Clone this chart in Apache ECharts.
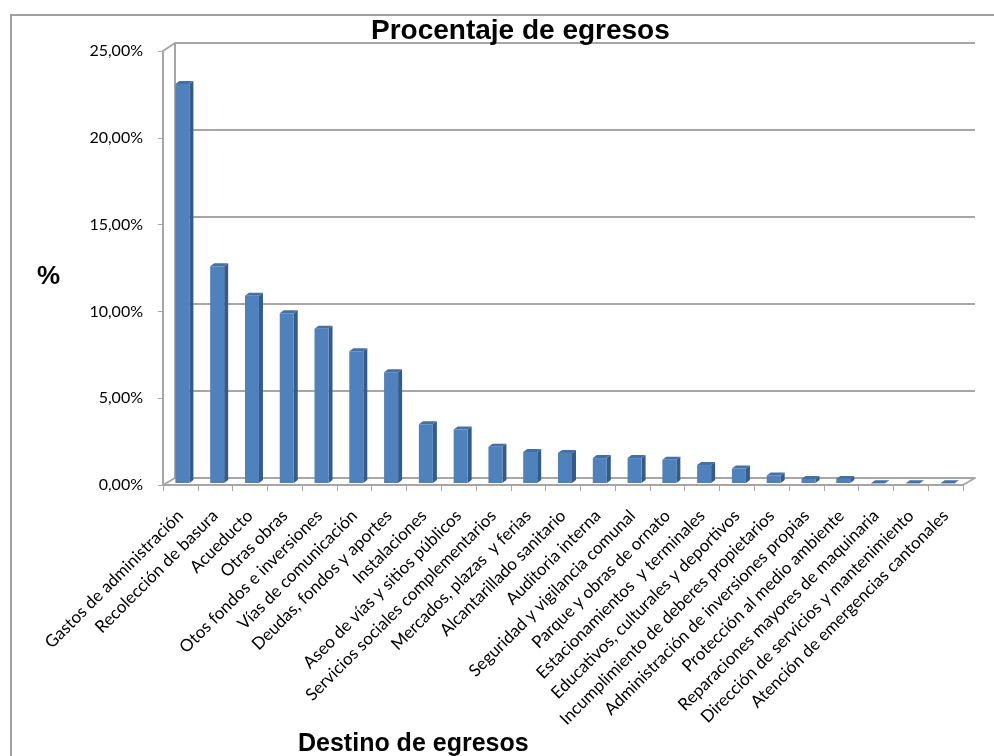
<!DOCTYPE html>
<html>
<head>
<meta charset="utf-8">
<script src="https://cdn.jsdelivr.net/npm/echarts@6/dist/echarts.min.js"></script>
<style>
  html, body { margin: 0; padding: 0; background: #fff; }
  #main { width: 994px; height: 756px; }
</style>
</head>
<body>
<div id="main"></div>
<script>
// destinos de egresos y su porcentaje
var destinos = [
  'Gastos de administración', 'Recolección de basura', 'Acueducto', 'Otras obras',
  'Otos fondos e inversiones', 'Vías de comunicación', 'Deudas, fondos y aportes',
  'Instalaciones', 'Aseo de vías y sitios públicos', 'Servicios sociales complementarios',
  'Mercados, plazas  y ferias', 'Alcantarillado sanitario', 'Auditoria interna',
  'Seguridad y vigilancia comunal', 'Parque y obras de ornato', 'Estacionamientos  y terminales',
  'Educativos, culturales y deportivos', 'Incumplimiento de deberes propietarios',
  'Administración de inversiones propias', 'Protección al medio ambiente',
  'Reparaciones mayores de maquinaria', 'Dirección de servicios y mantenimiento',
  'Atención de emergencias cantonales'
];
var porcentajes = [23.1, 12.6, 10.9, 9.9, 9.0, 7.7, 6.5, 3.5, 3.2, 2.2, 1.9, 1.85, 1.55,
  1.55, 1.45, 1.15, 0.95, 0.55, 0.35, 0.35, 0.1, 0.1, 0.1];
var yTicks = [0, 5, 10, 15, 20, 25];

var chart = echarts.init(document.getElementById('main'));

var fmt = function (v) { return v.toFixed(2).replace('.', ',') + '%'; };

var option = {
  animation: false,
  backgroundColor: '#fff',
  title: [
    { text: 'Procentaje de egresos', left: 366, top: 12,
      textStyle: { fontFamily: 'Liberation Sans, Arial', fontWeight: 'bold', fontSize: 28, color: '#000' } },
    { text: 'Destino de egresos', left: 293, top: 727,
      textStyle: { fontFamily: 'Liberation Sans, Arial', fontWeight: 'bold', fontSize: 25, color: '#000' } },
    { text: '%', left: 32, top: 259,
      textStyle: { fontFamily: 'Liberation Sans, Arial', fontWeight: 'bold', fontSize: 26, color: '#000' } }
  ],
  graphic: [
    { type: 'polyline', shape: { points: [[11, 760], [11, 15], [994, 15]] },
      style: { stroke: '#a0a0a0', lineWidth: 2, fill: null }, silent: true },
    // floor / wall edges of the pseudo 3d box
    { type: 'line', shape: { x1: 963, y1: 485, x2: 975, y2: 478 },
      style: { stroke: '#a6a6a6', lineWidth: 2 }, silent: true },
    { type: 'line', shape: { x1: 163, y1: 51, x2: 175, y2: 43 },
      style: { stroke: '#a6a6a6', lineWidth: 2 }, silent: true },
    { type: 'line', shape: { x1: 163, y1: 485, x2: 175, y2: 478 },
      style: { stroke: '#a6a6a6', lineWidth: 2 }, silent: true }
  ],
  grid: [
    { left: 175, right: 19, top: 43, bottom: 278 },
    { left: 163, right: 31, top: 51, bottom: 271 }
  ],
  xAxis: [
    { type: 'category', gridIndex: 0, data: destinos, axisLabel: { show: false },
      axisTick: { show: false }, axisLine: { lineStyle: { color: '#a6a6a6', width: 2 } } },
    { type: 'category', gridIndex: 1, data: destinos,
      axisLine: { lineStyle: { color: '#a6a6a6', width: 2 } },
      axisTick: { show: true, length: 6, lineStyle: { color: '#a6a6a6' } },
      axisLabel: { interval: 0, rotate: 45, margin: 28, fontFamily: 'Lato', fontSize: 17, color: '#000' } }
  ],
  yAxis: [
    { type: 'value', gridIndex: 0, min: 0, max: 25, interval: 5,
      axisLabel: { show: false }, axisTick: { show: false },
      axisLine: { show: true, lineStyle: { color: '#a6a6a6', width: 2 } },
      splitLine: { lineStyle: { color: '#a6a6a6', width: 2 } } },
    { type: 'value', gridIndex: 1, min: 0, max: 25, interval: 5,
      axisLine: { show: true, lineStyle: { color: '#a6a6a6', width: 2 } },
      axisTick: { show: true, length: 5, lineStyle: { color: '#a6a6a6' } },
      splitLine: { show: false },
      axisLabel: { margin: 20, fontFamily: 'Lato', fontSize: 16, color: '#000', formatter: fmt } }
  ],
  series: [{
    type: 'custom',
    xAxisIndex: 1,
    yAxisIndex: 1,
    data: porcentajes.map(function (v, i) { return [i, v]; }),
    renderItem: function (params, api) {
      var top = api.coord([api.value(0), api.value(1)]);
      var base = api.coord([api.value(0), 0]);
      var w = 14, d = 4, h = 3;
      var x0 = top[0] - w / 2 + 2, x1 = x0 + w, yt = top[1], yb = base[1] - 2;
      return {
        type: 'group',
        children: [
          { type: 'polygon', shape: { points: [[x1, yt], [x1 + d, yt - h], [x1 + d, yb - h], [x1, yb]] },
            style: { fill: '#365b87' } },
          { type: 'polygon', shape: { points: [[x0, yt], [x0 + d, yt - h], [x1 + d, yt - h], [x1, yt]] },
            style: { fill: '#4470a8' } },
          { type: 'rect', shape: { x: x0, y: yt, width: w, height: yb - yt },
            style: { fill: '#4f81bd' } }
        ]
      };
    }
  }]
};

chart.setOption(option);
</script>
</body>
</html>
